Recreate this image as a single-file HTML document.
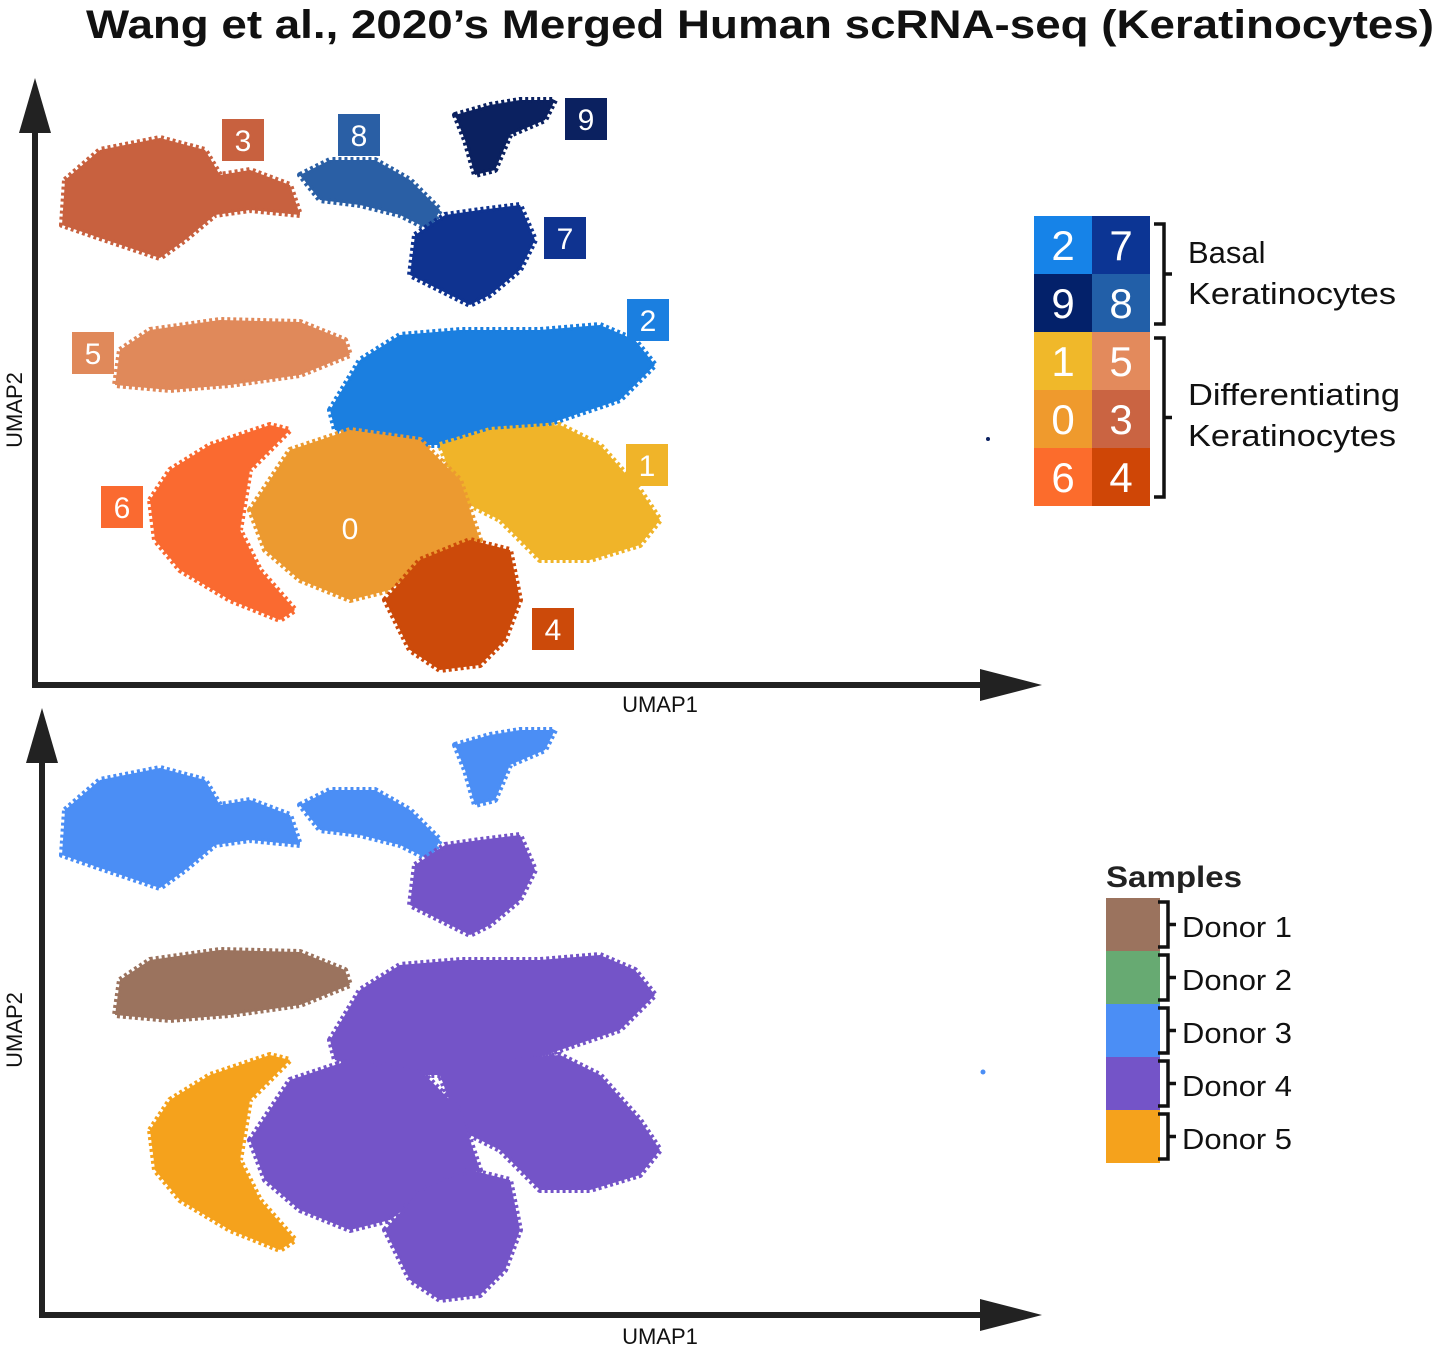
<!DOCTYPE html>
<html><head><meta charset="utf-8">
<style>
body{margin:0;background:#fff;width:1437px;height:1354px;overflow:hidden;font-family:"Liberation Sans",sans-serif;}
svg{position:absolute;left:0;top:0;}
</style></head>
<body>
<svg id="chart" width="1437" height="1354">
<text x="86" y="38" textLength="1348" lengthAdjust="spacingAndGlyphs" font-size="40" font-weight="bold" fill="#111">Wang et al., 2020’s Merged Human scRNA-seq (Keratinocytes)</text>
</svg>
<script>
// cluster ids and colours
const clusterIds = ['3','8','7','9','5','2','1','0','4','6'];
const clusterColors = ['#c8613f','#2a5fa5','#0f3390','#0b2160','#e0895a','#1b7fe0','#f0b429','#ec9a30','#cc4a0a','#fa6a30'];
const donorOfCluster = ['#4b8ef5','#4b8ef5','#7454c8','#4b8ef5','#9b735e','#7454c8','#7454c8','#7454c8','#7454c8','#f5a21c'];
// cluster outlines in UMAP units (x: UMAP1, y: UMAP2)
const outlines = [
 [[3,50.5],[6.5,53.5],[12.5,54.7],[17,53.5],[18.5,51],[21.5,51.5],[25.5,50],[26.5,47],[21.5,47.5],[18,47],[15,44.5],[12.5,42.7],[6.5,44.7],[2.7,46]],
 [[26.5,51],[29.5,52.5],[34,52.5],[37.5,50.5],[40.5,47.5],[39.5,45.5],[36.5,47],[32.5,48],[28.5,48.5]],
 [[38,45],[41,47],[44.5,47.5],[48.5,48],[50,44.5],[48.5,41.5],[45.5,39],[43.5,38],[40.5,39.5],[37.5,41]],
 [[42,57],[45.5,58],[48.5,58.5],[52,58.5],[51,56.5],[47.5,55],[46,51.5],[44,51],[43,54.5]],
 [[8.5,33.5],[11.5,35.5],[18.5,36.5],[26.5,36.3],[31,34.5],[31.5,33],[26.5,31],[19.5,30],[13.5,29.5],[8,30]],
 [[29.5,27.5],[32.5,32.5],[36.5,35],[42.5,35.5],[50.5,35.5],[56.5,36],[60,34.5],[62,32],[58.5,28.5],[52.5,26.5],[46.5,24.5],[42.5,24],[38.5,24],[34.5,24.5],[30,25.5]],
 [[40.5,24],[45.5,25.5],[52.5,26],[56.5,24],[60.5,19.5],[62.5,16.5],[60.5,14],[55.5,12.5],[50.5,12.5],[46.5,16.5],[42.5,18.5]],
 [[21.5,17.5],[25.5,23.5],[31.5,25.5],[38.5,24.5],[42.5,20.5],[44.5,14.5],[39.5,12.5],[35.5,9.5],[31.5,8.5],[26.5,10.5],[23,13.5]],
 [[35,8.5],[38.5,12.5],[43.5,14.5],[47.5,13.5],[48.5,8.5],[47,4.5],[44.5,2],[40.5,1.5],[37.5,3.5]],
 [[11.5,18.5],[13.5,21.5],[17.5,24],[23.5,26],[25.5,25.5],[21.5,21.5],[20.5,15.5],[22.5,11.5],[26,7.5],[24.5,6.5],[19.5,8.5],[14.5,11.5],[12,14.5]]
];
// label positions (UMAP units) for cluster badges
const labelIds = ['3','8','9','7','2','5','1','6','0','4'];
const labelX = [20.8,32.4,55.1,53,61.3,5.8,61.2,8.7,31.5,51.8];
const labelY = [54.5,55,56.6,44.7,36.5,33.2,22,17.8,15.7,5.6];
const labelBg = ['#c8613f','#2a5fa5','#0b2160','#0f3390','#1b7fe0','#e0895a','#f0b429','#fa6a30','none','#cc4a0a'];
const donorNames = ['Donor 1','Donor 2','Donor 3','Donor 4','Donor 5'];
const donorColors = ['#9b735e','#67aa72','#4b8ef5','#7454c8','#f5a21c'];

const NS='http://www.w3.org/2000/svg';
const svg=document.getElementById('chart');
function mk(tag,attrs,parent){const e=document.createElementNS(NS,tag);for(const k in attrs)e.setAttribute(k,attrs[k]);(parent||svg).appendChild(e);return e;}
const xs=v=>35+v*10;
const ysTop=v=>685-v*10;
const ysBot=v=>1315-v*10;

function axes(x0,y0,yTop,xLabelY,yLabelY){
  const g=mk('g',{});
  
  
  mk('line',{x1:x0,y1:y0,x2:990,y2:y0,stroke:'#222','stroke-width':6},g);
  mk('line',{x1:x0,y1:y0+3,x2:x0,y2:yTop+50,stroke:'#222','stroke-width':6},g);
  mk('polygon',{points:`980,${y0-16} 1042,${y0} 980,${y0+16}`,fill:'#222'},g);
  mk('polygon',{points:`${x0-16},${yTop+55} ${x0},${yTop} ${x0+16},${yTop+55}`,fill:'#222'},g);
  const xl=mk('text',{x:660,y:xLabelY,'text-anchor':'middle','font-size':22,fill:'#111'},g);xl.textContent='UMAP1';
  
  const yl=mk('text',{x:22,y:yLabelY,'text-anchor':'middle','font-size':22,fill:'#111',transform:`rotate(-90 22 ${yLabelY})`},g);yl.textContent='UMAP2';
  
}
function clusters(ys,colors,name){
  const g=mk('g',{});
  
  
  outlines.forEach((pts,i)=>{
    const p=mk('polygon',{points:pts.map(q=>xs(q[0])+','+ys(q[1])).join(' '),fill:colors[i],stroke:colors[i],'stroke-width':6,'stroke-linejoin':'round','stroke-dasharray':'3 3'},g);
    
    
  });
}
axes(35,685,78,712,410);
axes(42,1315,708,1344,1030);
clusters(ysTop,clusterColors,'umap-clusters');
clusters(ysBot,donorOfCluster,'umap-donors');
// small outlier dots
mk('circle',{cx:988,cy:439,r:2,fill:'#0b2160'});
mk('circle',{cx:983,cy:1072,r:2.5,fill:'#4b8ef5'});

// badges
labelIds.forEach((id,i)=>{
  const cx=xs(labelX[i]),cy=ysTop(labelY[i]);
  const g=mk('g',{});
  
  
  if(labelBg[i]!=='none') mk('rect',{x:cx-21,y:cy-21,width:42,height:42,fill:labelBg[i]},g);
  const t=mk('text',{x:cx,y:cy+11,'text-anchor':'middle','font-size':30,fill:'#fff'},g);t.textContent=id;
});

// cluster legend grid
const gridIds=[['2','7'],['9','8'],['1','5'],['0','3'],['6','4']];
const gridCol={'2':'#1683e8','7':'#0c3594','9':'#03216a','8':'#225fa8','1':'#f0b82a','5':'#e38a5c','0':'#ef9a2d','3':'#ca6442','6':'#fc6c2c','4':'#cf4606'};
const lg=mk('g',{});


gridIds.forEach((row,r)=>row.forEach((id,c)=>{
  const x=1034+c*58,y=216+r*58;
  mk('rect',{x:x,y:y,width:58,height:58,fill:gridCol[id]},lg);
  const t=mk('text',{x:x+29,y:y+44,'text-anchor':'middle','font-size':42,fill:'#fff'},lg);t.textContent=id;
}));
function brace(x,y1,y2,g){
  const m=(y1+y2)/2;
  mk('path',{d:`M${x-10},${y1} H${x} V${y2} H${x-10} M${x},${m} H${x+8}`,fill:'none',stroke:'#111','stroke-width':3.5},g);
}
brace(1164,224,324,lg);brace(1164,338,497,lg);
[['Basal',263,0],['Keratinocytes',304,208],['Differentiating',405,212],['Keratinocytes',446,208]].forEach(a=>{
  const at={x:1188,y:a[1],'font-size':31,fill:'#111'};
  if(a[2]){at.textLength=a[2];at.lengthAdjust='spacingAndGlyphs';}
  const t=mk('text',at,lg);t.textContent=a[0];
});

// donor legend
const dg=mk('g',{});


const st=mk('text',{x:1106,y:887,'font-size':30,'font-weight':'bold',fill:'#222',textLength:136,lengthAdjust:'spacingAndGlyphs'},dg);st.textContent='Samples';
donorNames.forEach((n,i)=>{
  const y=898+i*53;
  const e=mk('g',{},dg);
  
  
  mk('rect',{x:1106,y:y,width:54,height:53,fill:donorColors[i]},e);
  brace(1168,y+4,y+49,e);
  const t=mk('text',{x:1182,y:y+39,'font-size':29,fill:'#111',textLength:110,lengthAdjust:'spacingAndGlyphs'},e);t.textContent=n;
});
</script>
</body></html>
